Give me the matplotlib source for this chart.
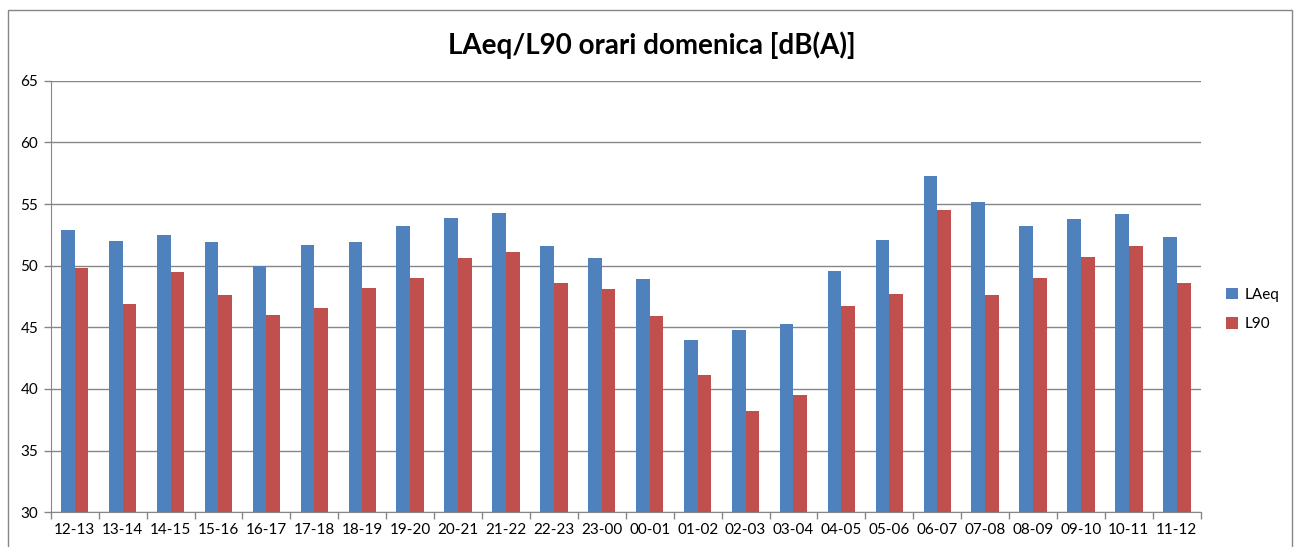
import numpy as np
import matplotlib.pyplot as plt
from matplotlib.patches import Rectangle

plt.rcParams['font.family'] = ['Lato', 'DejaVu Sans']

fasce = ["12-13", "13-14", "14-15", "15-16", "16-17", "17-18", "18-19", "19-20",
         "20-21", "21-22", "22-23", "23-00", "00-01", "01-02", "02-03", "03-04",
         "04-05", "05-06", "06-07", "07-08", "08-09", "09-10", "10-11", "11-12"]
laeq = [52.9, 52.0, 52.5, 51.9, 50.0, 51.7, 51.9, 53.2,
        53.9, 54.3, 51.6, 50.6, 48.9, 44.0, 44.8, 45.3,
        49.6, 52.1, 57.3, 55.2, 53.2, 53.8, 54.2, 52.3]
l90 = [49.8, 46.9, 49.5, 47.6, 46.0, 46.6, 48.2, 49.0,
       50.6, 51.1, 48.6, 48.1, 45.9, 41.1, 38.2, 39.5,
       46.7, 47.7, 54.5, 47.6, 49.0, 50.7, 51.6, 48.6]

fig = plt.figure(figsize=(12.98, 5.47), dpi=100)
ax = fig.add_axes([0.0391, 0.0634, 0.886, 0.7891])

# cornice esterna del grafico
fig.patches.append(Rectangle((8/1298, -0.05), (1292-8)/1298, 1.05 - 10/547,
                             transform=fig.transFigure, fill=False,
                             edgecolor='#868686', lw=1.0))

x = np.arange(len(fasce))
w = 1/3.5
ax.bar(x - w/2, laeq, w, color='#4F81BD', label='LAeq', zorder=3)
ax.bar(x + w/2, l90, w, color='#C0504D', label='L90', zorder=3)

ax.set_ylim(30, 65)
ax.set_xlim(-0.5, len(fasce) - 0.5)
ax.set_yticks(np.arange(30, 66, 5))
ax.yaxis.grid(True, color='#868686', lw=1.0, zorder=0)

ax.set_xticks(x)
ax.set_xticklabels(fasce, fontsize=11)
ax.set_xticks(np.arange(-0.5, len(fasce), 1), minor=True)
ax.tick_params(axis='x', which='major', length=0, pad=8)
ax.tick_params(axis='x', which='minor', length=5, color='#868686', width=1)
ax.tick_params(axis='y', length=5, color='#868686', width=1, labelsize=11, pad=4)

for s in ['top', 'right']:
    ax.spines[s].set_visible(False)
for s in ['left', 'bottom']:
    ax.spines[s].set_color('#868686')

fig.text(0.502, 0.917, 'LAeq/L90 orari domenica [dB(A)]', ha='center', va='center',
         fontsize=20, fontweight='bold')

ax.legend(loc='center left', bbox_to_anchor=(1.01, 0.47), frameon=False,
          fontsize=11, handlelength=0.8, handleheight=0.8, labelspacing=1.0,
          handletextpad=0.4)

fig.savefig('out.png', dpi=100)
